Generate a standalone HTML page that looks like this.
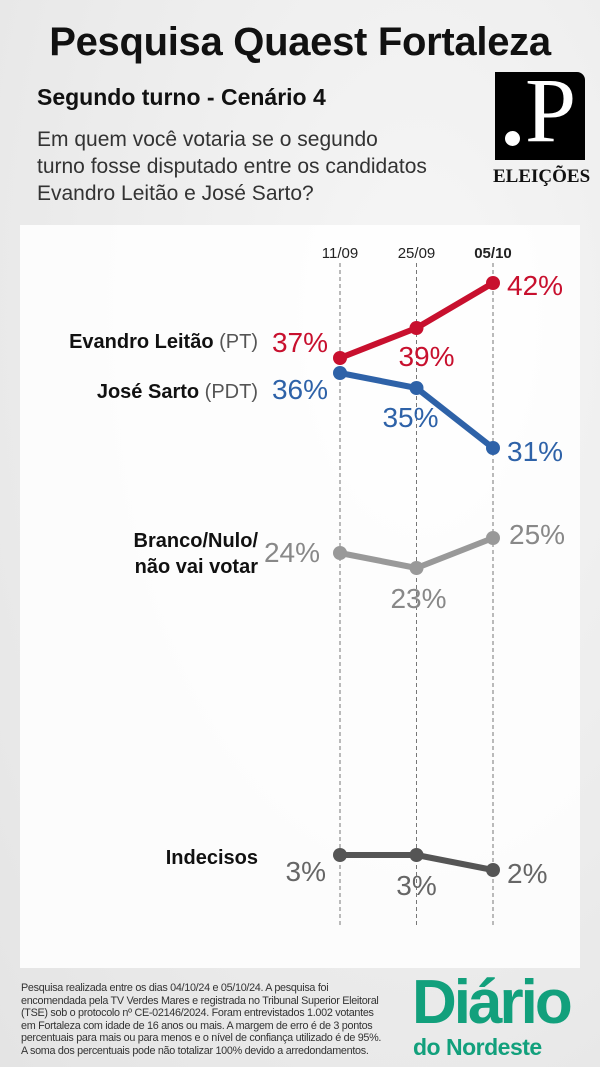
<!DOCTYPE html>
<html><head><meta charset="utf-8"><style>
body{margin:0;width:600px;height:1067px;overflow:hidden;background:#e9e9e9;font-family:"Liberation Sans",sans-serif;}
.abs{position:absolute}
</style></head><body>
<div class="abs" style="left:0;top:0;width:600px;height:1067px;background:radial-gradient(ellipse at 70% 30%,#f6f6f6,#e4e4e4)"></div>
<div class="abs" style="left:20px;top:225px;width:560px;height:743px;background:#fff;opacity:.85"></div>
<div class="abs" style="left:0;top:20px;width:600px;text-align:center;font-size:40px;font-weight:bold;color:#111;letter-spacing:-0.3px">Pesquisa Quaest Fortaleza</div>
<div class="abs" style="left:37px;top:84px;font-size:23px;font-weight:bold;color:#111">Segundo turno - Cenário 4</div>
<div class="abs" style="left:37px;top:126px;font-size:21px;line-height:27px;color:#333">Em quem você votaria se o segundo<br>turno fosse disputado entre os candidatos<br>Evandro Leitão e José Sarto?</div>
<div class="abs" style="left:495px;top:72px;width:90px;height:88px;background:#000;border-radius:0 8px 0 0">
<div class="abs" style="left:10px;top:59px;width:15px;height:15px;border-radius:50%;background:#fff"></div>
<div class="abs" style="left:30px;top:-8px;font-family:'Liberation Serif',serif;font-size:92px;color:#fff;line-height:92px">P</div></div>
<div class="abs" style="left:493px;top:166px;font-family:'Liberation Serif',serif;font-size:19px;font-weight:bold;color:#111">ELEIÇÕES</div>
<svg class="abs" style="left:0;top:0" width="600" height="1067" id="chart"></svg>
<div class="abs" style="left:21px;top:982px;font-size:10.8px;line-height:12.6px;color:#333;white-space:nowrap;letter-spacing:-0.3px">Pesquisa realizada entre os dias 04/10/24 e 05/10/24. A pesquisa foi<br>encomendada pela TV Verdes Mares e registrada no Tribunal Superior Eleitoral<br>(TSE) sob o protocolo nº CE-02146/2024. Foram entrevistados 1.002 votantes<br>em Fortaleza com idade de 16 anos ou mais. A margem de erro é de 3 pontos<br>percentuais para mais ou para menos e o nível de confiança utilizado é de 95%.<br>A soma dos percentuais pode não totalizar 100% devido a arredondamentos.</div>
<div class="abs" style="left:412px;top:970px;color:#12a07c;font-weight:bold">
<div style="font-size:62px;letter-spacing:-3px;line-height:66px">Diário</div>
<div style="font-size:23px;line-height:22px;margin-left:1px;letter-spacing:-0.5px">do Nordeste</div></div>
<script>
const dates=["11/09","25/09","05/10"];
const evandro=[37,39,42];
const sarto=[36,35,31];
const branco=[24,23,25];
const indecisos=[3,3,2];
const svg=document.getElementById('chart');const NS="http://www.w3.org/2000/svg";
const xs=i=>340+i*76.5;
const y=(v,off)=>913-15*v+off;
function mk(t,a,txt){const e=document.createElementNS(NS,t);for(const k in a)e.setAttribute(k,a[k]);if(txt!==undefined)e.textContent=txt;svg.appendChild(e);return e;}
dates.forEach((d,i)=>{
const l=mk('line',{x1:xs(i),x2:xs(i),y1:263,y2:925,stroke:'#777','stroke-dasharray':'4,3','stroke-width':1});

const t=mk('text',{x:xs(i),y:258,'text-anchor':'middle','font-size':15,fill:'#222','font-weight':i==2?'bold':'normal'},d);

});
function series(vals,color,off,name,labelPos,lcol){
const pts=vals.map((v,i)=>xs(i)+','+y(v,off)).join(' ');
const p=mk('polyline',{points:pts,fill:'none',stroke:color,'stroke-width':6,'stroke-linejoin':'round'});

vals.forEach((v,i)=>{
const c=mk('circle',{cx:xs(i),cy:y(v,off),r:7,fill:color});

const [dx,dy,anc]=labelPos[i];
const t=mk('text',{x:xs(i)+dx,y:y(v,off)+dy,'text-anchor':anc,'font-size':28,fill:lcol},v+'%');

});}
series(evandro,'#c8102e',0,'evandro',[[-12,-6,'end'],[10,38,'middle'],[14,12,'start']],'#c8102e');
series(sarto,'#2e62a8',0,'sarto',[[-12,26,'end'],[-6,39,'middle'],[14,13,'start']],'#2e62a8');
series(branco,'#999',0,'branco',[[-20,9,'end'],[2,40,'middle'],[16,6,'start']],'#888');
series(indecisos,'#555',-13,'indecisos',[[-14,26,'end'],[0,40,'middle'],[14,13,'start']],'#666');
function lab(lines,yy,name){lines.forEach((L,i)=>{const t=mk('text',{x:258,y:yy+i*26,'text-anchor':'end','font-size':20,fill:'#111'});

L.forEach(([s,b])=>{const ts=document.createElementNS(NS,'tspan');ts.textContent=s;ts.setAttribute('font-weight',b?'bold':'normal');if(!b)ts.setAttribute('fill','#555');t.appendChild(ts);});});}
lab([[["Evandro Leitão",1],[" (PT)",0]]],348,'evandro-name');
lab([[["José Sarto",1],[" (PDT)",0]]],398,'sarto-name');
lab([[["Branco/Nulo/",1]],[["não vai votar",1]]],547,'branco-name');
lab([[["Indecisos",1]]],864,'indecisos-name');
</script>
</body></html>
